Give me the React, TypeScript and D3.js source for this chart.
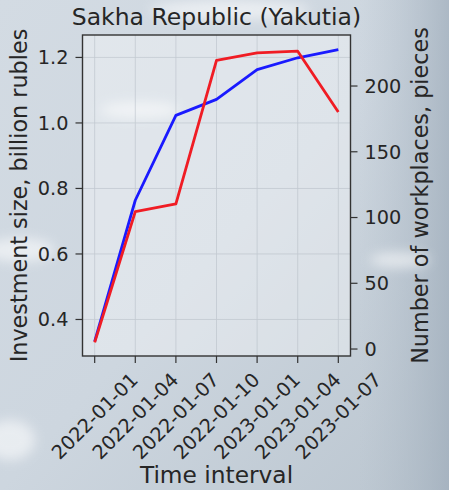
import React from "react";
import * as d3 from "d3";

const categories = ["2022-01-01", "2022-01-04", "2022-01-07", "2022-01-10", "2023-01-01", "2023-01-04", "2023-01-07"];
const investment = [0.333, 0.764, 1.023, 1.072, 1.163, 1.199, 1.224];
const workplaces = [5, 104.5, 110.4, 219.5, 225.2, 226.5, 180.3];
const leftTicks = [0.4, 0.6, 0.8, 1.0, 1.2];
const rightTicks = [0, 50, 100, 150, 200];

const W = 449, H = 490;
const L = 82.5, R = 350.5, T = 35, B = 356;
const FONT = "DejaVu Sans, sans-serif";
const TXT = "#262626";
const TICK = 19.3;
const LAB = 23.3;
const YLAB = 22.3;

export default function App() {
  const span = categories.length - 1;
  // matplotlib-like 5% margins
  const xi = d3.scaleLinear().domain([-0.05 * span, span * 1.05]).range([L, R]);
  const yl = d3.scaleLinear().domain([0.2885, 1.2685]).range([B, T]);
  const yr = d3.scaleLinear().domain([-5.3, 238.8]).range([B, T]);
  const lineL = d3.line<number>().x((_, i) => xi(i)).y((d) => yl(d));
  const lineR = d3.line<number>().x((_, i) => xi(i)).y((d) => yr(d));
  return (
    <svg width={W} height={H} style={{ position: "absolute", left: 0, top: 0 }} fontFamily={FONT}>
      <defs>
        <linearGradient id="bg" x1="0" y1="0" x2="1" y2="1">
          <stop offset="0" stopColor="#d3dbe3" />
          <stop offset="0.5" stopColor="#cdd6df" />
          <stop offset="1" stopColor="#bac5cf" />
        </linearGradient>
        <linearGradient id="rside" x1="0" y1="0" x2="1" y2="0">
          <stop offset="0" stopColor="#b0bcc8" stopOpacity="0" />
          <stop offset="1" stopColor="#9eacba" stopOpacity="0.7" />
        </linearGradient>
        <filter id="blur" x="-50%" y="-50%" width="200%" height="200%">
          <feGaussianBlur stdDeviation="6" />
        </filter>
      </defs>
      <rect x={0} y={0} width={W} height={H} fill="url(#bg)" />
      <rect x={360} y={0} width={89} height={H} fill="url(#rside)" />
      <g filter="url(#blur)" fill="#ffffff" opacity={0.55}>
        <ellipse cx={20} cy={250} rx={35} ry={12} />
        <ellipse cx={10} cy={440} rx={25} ry={20} />
        <ellipse cx={140} cy={110} rx={40} ry={8} />
        <ellipse cx={400} cy={260} rx={30} ry={8} />
        <ellipse cx={230} cy={10} rx={80} ry={10} />
      </g>
      <rect x={L} y={T} width={R - L} height={B - T} fill="#ffffff" opacity={0.35} />
      {/* grid */}
      <g stroke="#b0b8c0" strokeWidth={0.8} opacity={0.6}>
        {categories.map((c, i) => (
          <line key={c} x1={xi(i)} x2={xi(i)} y1={T} y2={B} />
        ))}
        {leftTicks.map((t) => (
          <line key={t} x1={L} x2={R} y1={yl(t)} y2={yl(t)} />
        ))}
      </g>
      {/* lines */}
      <path d={lineL(investment) || ""} fill="none" stroke="#1a1aff" strokeWidth={2.8} strokeLinejoin="round" />
      <path d={lineR(workplaces) || ""} fill="none" stroke="#f01c24" strokeWidth={2.8} strokeLinejoin="round" />
      {/* spines */}
      <rect x={L} y={T} width={R - L} height={B - T} fill="none" stroke="#333333" strokeWidth={1.4} />
      {/* left ticks */}
      {leftTicks.map((t) => (
        <g key={t}>
          <line x1={L - 7} x2={L} y1={yl(t)} y2={yl(t)} stroke="#333" strokeWidth={1.2} />
          <text x={L - 14} y={yl(t)} dy="0.35em" textAnchor="end" fontSize={TICK} fill={TXT}>
            {t.toFixed(1)}
          </text>
        </g>
      ))}
      {/* right ticks */}
      {rightTicks.map((t) => (
        <g key={t}>
          <line x1={R} x2={R + 7} y1={yr(t)} y2={yr(t)} stroke="#333" strokeWidth={1.2} />
          <text x={R + 14} y={yr(t)} dy="0.35em" textAnchor="start" fontSize={TICK} fill={TXT}>
            {t}
          </text>
        </g>
      ))}
      {/* x ticks */}
      {categories.map((c, i) => (
        <g key={c}>
          <line x1={xi(i)} x2={xi(i)} y1={B} y2={B + 7} stroke="#333" strokeWidth={1.2} />
          <text
            transform={`translate(${xi(i)},416) rotate(-45)`}
            textAnchor="middle"
            dy="0.35em"
            fontSize={TICK}
            fill={TXT}
          >
            {c}
          </text>
        </g>
      ))}
      <text x={(L + R) / 2} y={25} textAnchor="middle" fontSize={23.5} fill={TXT}>
        Sakha Republic (Yakutia)
      </text>
      <text x={(L + R) / 2} y={483} textAnchor="middle" fontSize={LAB} fill={TXT}>
        Time interval
      </text>
      <text transform={`translate(27,${(T + B) / 2}) rotate(-90)`} textAnchor="middle" fontSize={YLAB} fill={TXT}>
        Investment size, billion rubles
      </text>
      <text transform={`translate(428,${(T + B) / 2}) rotate(-90)`} textAnchor="middle" fontSize={YLAB} fill={TXT}>
        Number of workplaces, pieces
      </text>
    </svg>
  );
}
